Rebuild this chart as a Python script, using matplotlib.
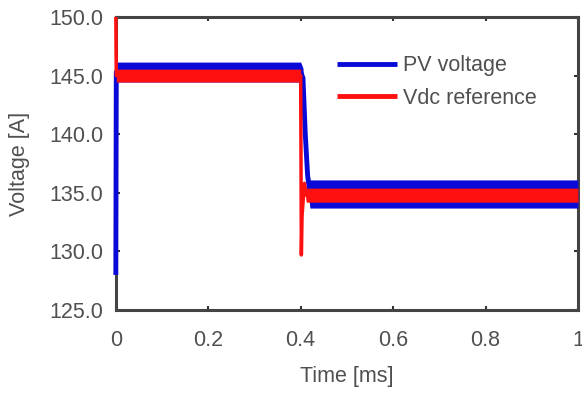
import matplotlib
matplotlib.use("Agg")
import matplotlib.pyplot as plt
import numpy as np

plt.rcParams['font.family'] = ['Liberation Sans', 'DejaVu Sans']

# PV voltage: centre of the ripple band and its half-width [V]
pv_time = [0.0, 0.001, 0.4, 0.405, 0.41, 0.415, 0.42, 1.0]
pv_mid = [128.0, 145.3, 145.3, 144.8, 140.0, 136.5, 134.9, 134.9]
pv_ripple = [0.0, 0.85, 0.85, 0.85, 0.9, 1.0, 1.2, 1.2]

# Vdc reference
ref_time = [0.0, 0.001, 0.4, 0.4015, 0.403, 0.408, 0.412, 1.0]
ref_mid = [150.0, 145.0, 145.0, 129.7, 133.0, 135.8, 134.8, 134.8]
ref_ripple = [0.0, 0.55, 0.55, 0.0, 0.0, 0.3, 0.6, 0.6]

xticks = [0, 0.2, 0.4, 0.6, 0.8, 1]
xticklabels = ["0", "0.2", "0.4", "0.6", "0.8", "1"]
yticks = [125, 130, 135, 140, 145, 150]

text_col = '#505050'
fs = 15.5

fig = plt.figure(figsize=(5.82, 3.94), dpi=100)
ax = fig.add_axes([0.199, 0.213, 0.794, 0.744])

pv_mid_a = np.array(pv_mid)
pv_rip_a = np.array(pv_ripple)
ref_mid_a = np.array(ref_mid)
ref_rip_a = np.array(ref_ripple)

ax.fill_between(pv_time, pv_mid_a - pv_rip_a, pv_mid_a + pv_rip_a,
                color='#0a0ad8', lw=0, zorder=3)
ax.plot(pv_time, pv_mid, color='#0a0ad8', lw=3.5, zorder=3, label='PV voltage',
        clip_on=False, solid_capstyle='butt')

ax.fill_between(ref_time, ref_mid_a - ref_rip_a, ref_mid_a + ref_rip_a,
                color='#ff1010', lw=0, zorder=4)
ax.plot(ref_time, ref_mid, color='#ff1010', lw=2.5, zorder=4, label='Vdc reference',
        clip_on=False, solid_capstyle='butt')

ax.set_xlim(0, 1)
ax.set_ylim(125, 150)
ax.set_xticks(xticks)
ax.set_xticklabels(xticklabels)
ax.set_yticks(yticks)
ax.set_yticklabels([f"{v:.1f}" for v in yticks])

ax.tick_params(axis='both', direction='in', length=3, width=1.5, colors='#333333',
               labelcolor=text_col, labelsize=fs, top=True, right=True)
ax.tick_params(axis='x', pad=14)
ax.tick_params(axis='y', pad=9)

for s in ax.spines.values():
    s.set_linewidth(2.2)
    s.set_color('#444444')

ax.set_xlabel('Time [ms]', fontsize=fs, color=text_col)
ax.set_ylabel('Voltage [A]', fontsize=fs, color=text_col)
ax.xaxis.set_label_coords(0.5, -0.19)
ax.yaxis.set_label_coords(-0.186, 0.5)

leg = ax.legend(loc='upper left', bbox_to_anchor=(0.478, 0.87), frameon=False,
                fontsize=fs, handlelength=2.8, handletextpad=0.3,
                labelspacing=0.55, borderpad=0, borderaxespad=0)
for t in leg.get_texts():
    t.set_color(text_col)
for h in leg.get_lines():
    h.set_linewidth(3.5)

fig.savefig('out.png', dpi=100)
